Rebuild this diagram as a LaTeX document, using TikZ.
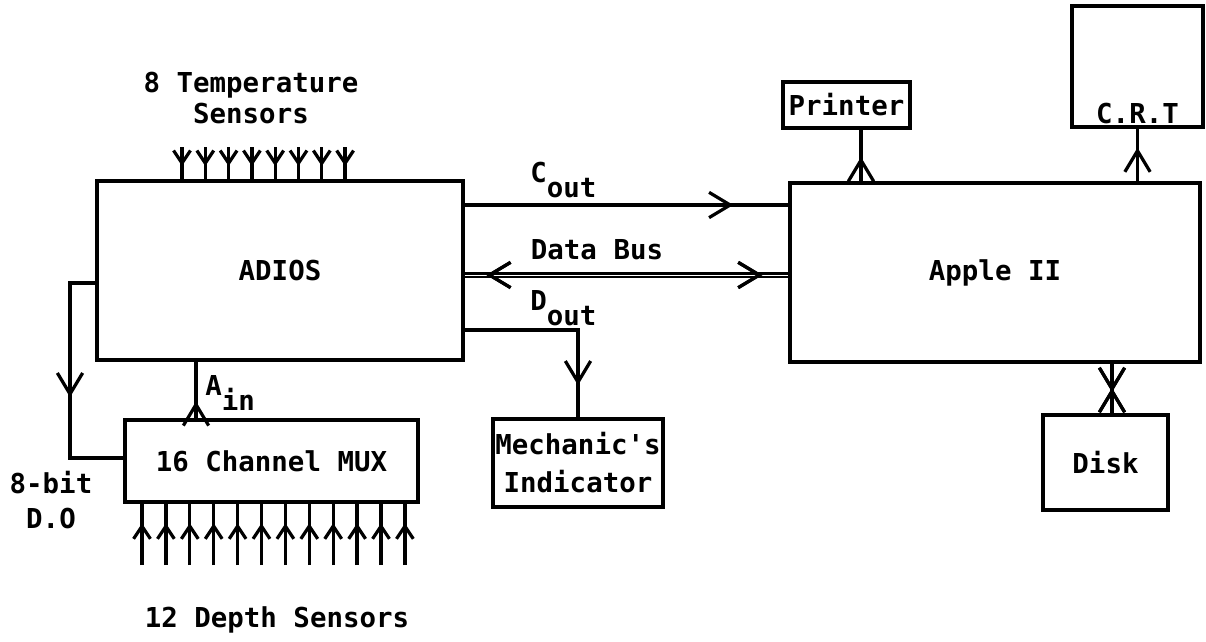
\documentclass[tikz,border=0pt]{standalone}
\usepackage{fontspec}
\setmonofont{DejaVu Sans Mono}
\usetikzlibrary{arrows.meta, decorations.markings}

\newcommand{\diagfont}{\ttfamily\bfseries\fontsize{19.5}{22}\selectfont}

\tikzset{
  blk/.style={draw, line width=2.3pt, inner sep=0pt, font=\diagfont},
  lbl/.style={inner sep=0pt, font=\diagfont, align=center},
  wire/.style={line width=2.3pt},
  bus/.style={double, double distance=0.6pt, line width=1.9pt},
  bigtip/.style={postaction={decorate}, decoration={markings,
      mark=at position #1 with {\arrow{Straight Barb[length=15pt, width=18pt]}}}},
  backtip/.style={postaction={decorate}, decoration={markings,
      mark=at position #1 with {\arrowreversed{Straight Barb[length=15pt, width=18pt]}}}},
  smalltip/.style={postaction={decorate}, decoration={markings,
      mark=at position #1 with {\arrow{Straight Barb[length=9pt, width=12pt]}}}}
}

\begin{document}
\begin{tikzpicture}[x=0.025cm, y=-0.025cm]
        \useasboundingbox (0,0) rectangle (1206,641);

        % Define blocks
        \node[blk, minimum width=9.15cm, minimum height=4.475cm] (adios) at (280,270.5) {ADIOS};
        \node[blk, minimum width=10.25cm, minimum height=4.475cm] (apple) at (995,272.5) {Apple II};
        \node[blk, minimum width=7.325cm, minimum height=2.05cm] (mux) at (271.5,461) {16 Channel MUX};
        \node[blk, minimum width=4.25cm, minimum height=2.2cm, align=center] (mech) at (578,463)
            {Mechanic's\\[5pt]Indicator};
        \node[blk, minimum width=3.175cm, minimum height=1.15cm] (printer) at (846.5,105) {Printer};
        \node[blk, minimum width=3.275cm, minimum height=3.025cm] (crt) at (1137.5,66.5) {};
        \node[blk, minimum width=3.125cm, minimum height=2.375cm] (disk) at (1105.5,462.5) {Disk};

        % Label blocks and lines
        \node[lbl, anchor=south] (crtlbl) at ([yshift=0.12cm]crt.south) {C.R.T};
        \node[lbl] (templbl) at (251,98) {8 Temperature\\Sensors};
        \node[lbl] (depthlbl) at (277,620) {12 Depth Sensors};
        \node[lbl] (dolbl) at (51,500) {8-bit\\[3pt]D.O};
        \node[lbl, anchor=base west] (coutlbl) at (530,182) {C\raisebox{-0.55em}{out}};
        \node[lbl] (buslbl) at (597,250) {Data Bus};
        \node[lbl, anchor=base west] (doutlbl) at (530,310) {D\raisebox{-0.55em}{out}};
        \node[lbl, anchor=base west] (ainlbl) at (205,395) {A\raisebox{-0.55em}{in}};

        % ADIOS to Apple II
        \draw[wire, bigtip=0.83] (adios.east |- 0,205) -- (apple.west |- 0,205);
        \draw[bus] (adios.east |- 0,275) -- (apple.west |- 0,275);
        \path[wire, backtip=0.067, bigtip=0.92] (adios.east |- 0,275) -- (apple.west |- 0,275);

        % ADIOS outputs
        \draw[wire, bigtip=0.84] (adios.east |- 0,330) -| (mech.north);
        \draw[wire, bigtip=0.55] (adios.west |- 0,283) -- (70,283) |- (mux.west |- 0,458);
        \draw[wire, bigtip=0.3] (mux.north -| 196,0) -- (adios.south -| 196,0);

        % Apple II peripherals
        \draw[wire, bigtip=0.47] (apple.north -| 861,0) -- (printer.south -| 861,0);
        \draw[wire, bigtip=0.64] (apple.north -| crt.south) -- (crt.south);
        \draw[wire, bigtip=0.57, backtip=0.49] (apple.south -| 1112,0) -- (disk.north -| 1112,0);

        % Sensors
        \foreach \i [evaluate=\i as \tx using 182+23.3*\i] in {0,...,7} {
            \coordinate (t\i) at (\tx,147);
            \draw[wire, smalltip=0.59] (t\i) -- (adios.north -| t\i);
        }
        \foreach \i [evaluate=\i as \dx using 142+23.9*\i] in {0,...,11} {
            \coordinate (d\i) at (\dx,565);
            \draw[wire, smalltip=0.68] (d\i) -- (mux.south -| d\i);
        }

    \end{tikzpicture}
\end{document}
